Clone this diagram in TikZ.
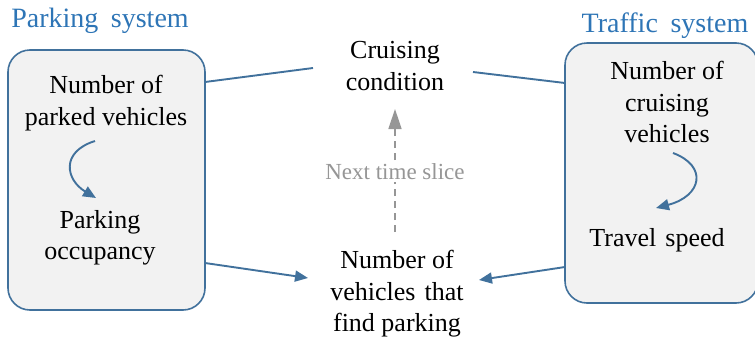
\documentclass[tikz,border=0pt]{standalone}
\usepackage{fontspec}
\setmainfont{Liberation Serif}
\usetikzlibrary{arrows.meta}
\definecolor{boxblue}{RGB}{65,113,156}
\definecolor{titleblue}{RGB}{46,117,182}
\definecolor{boxfill}{RGB}{242,242,242}
\definecolor{slicegray}{RGB}{150,150,150}
\begin{document}
\begin{tikzpicture}[x=1pt,y=-1pt,
  sysbox/.style={draw=boxblue,line width=1.6pt,fill=boxfill,rounded corners=22pt,inner sep=0pt},
  body/.style={font=\fontsize{26}{31.5}\selectfont,align=center,inner sep=0pt},
  systitle/.style={font=\fontsize{28}{32}\selectfont,text=titleblue,inner sep=0pt},
  link/.style={draw=boxblue,line width=1.9pt},
  tipb/.style={-{Triangle[length=13pt,width=11pt]}},
  slice/.style={draw=slicegray,line width=1.5pt,dash pattern=on 7pt off 5pt,-{Triangle[length=20pt,width=13pt]}}
]
\useasboundingbox (0,0) rectangle (755,338);
% system boxes
\node[sysbox,minimum width=197pt,minimum height=260pt] (lb) at (106.5,180) {};
\node[sysbox,minimum width=193pt,minimum height=260pt] (rb) at (661.5,173) {};
% titles
\node[systitle] (pst) at (100,21) {Parking\hspace{0.45em}system};
\node[systitle] (tst) at (665,26) {Traffic\hspace{0.45em}system};
% texts
\node[body] (pv) at (106,103) {Number of\\parked vehicles};
\node[body] (po) at (100,238) {Parking\\occupancy};
\node[body] (cv) at (667,102) {Number of\\cruising\\vehicles};
\node[body] (ts) at (657,240) {Travel\hspace{0.35em}speed};
\node[body] (cc) at (395,66) {Cruising\\condition};
\node[body] (nf) at (397,294) {Number of\\vehicles\hspace{0.35em}that\\find parking};
% link points
\coordinate (l1) at (205,82);
\coordinate (c1) at (313,68);
\coordinate (c2) at (473,72);
\coordinate (r1) at (565,83);
\coordinate (l2) at (205,263);
\coordinate (n1) at (308,278);
\coordinate (r2) at (565,267);
\coordinate (n2) at (479,280);
\draw[link] (l1) -- (c1);
\draw[link] (c2) -- (r1);
\draw[link,tipb] (l2) -- (n1);
\draw[link,tipb] (r2) -- (n2);
% inner curved arrows
\coordinate (pa) at (95,141);
\coordinate (pb) at (96,198);
\draw[link,tipb] (pa) .. controls (60,152) and (66,180) .. (pb);
\coordinate (ca) at (673,153);
\coordinate (cb) at (656,208);
\draw[link,tipb] (ca) .. controls (708,166) and (702,196) .. (cb);
% next time slice
\coordinate (sa) at (395,232);
\coordinate (sb) at (395,109);
\draw[slice] (sa) -- (sb);
\node[font=\fontsize{23}{26}\selectfont,text=slicegray,fill=white,inner sep=2pt] (nts) at (395,172) {Next time slice};
\end{tikzpicture}
\end{document}
